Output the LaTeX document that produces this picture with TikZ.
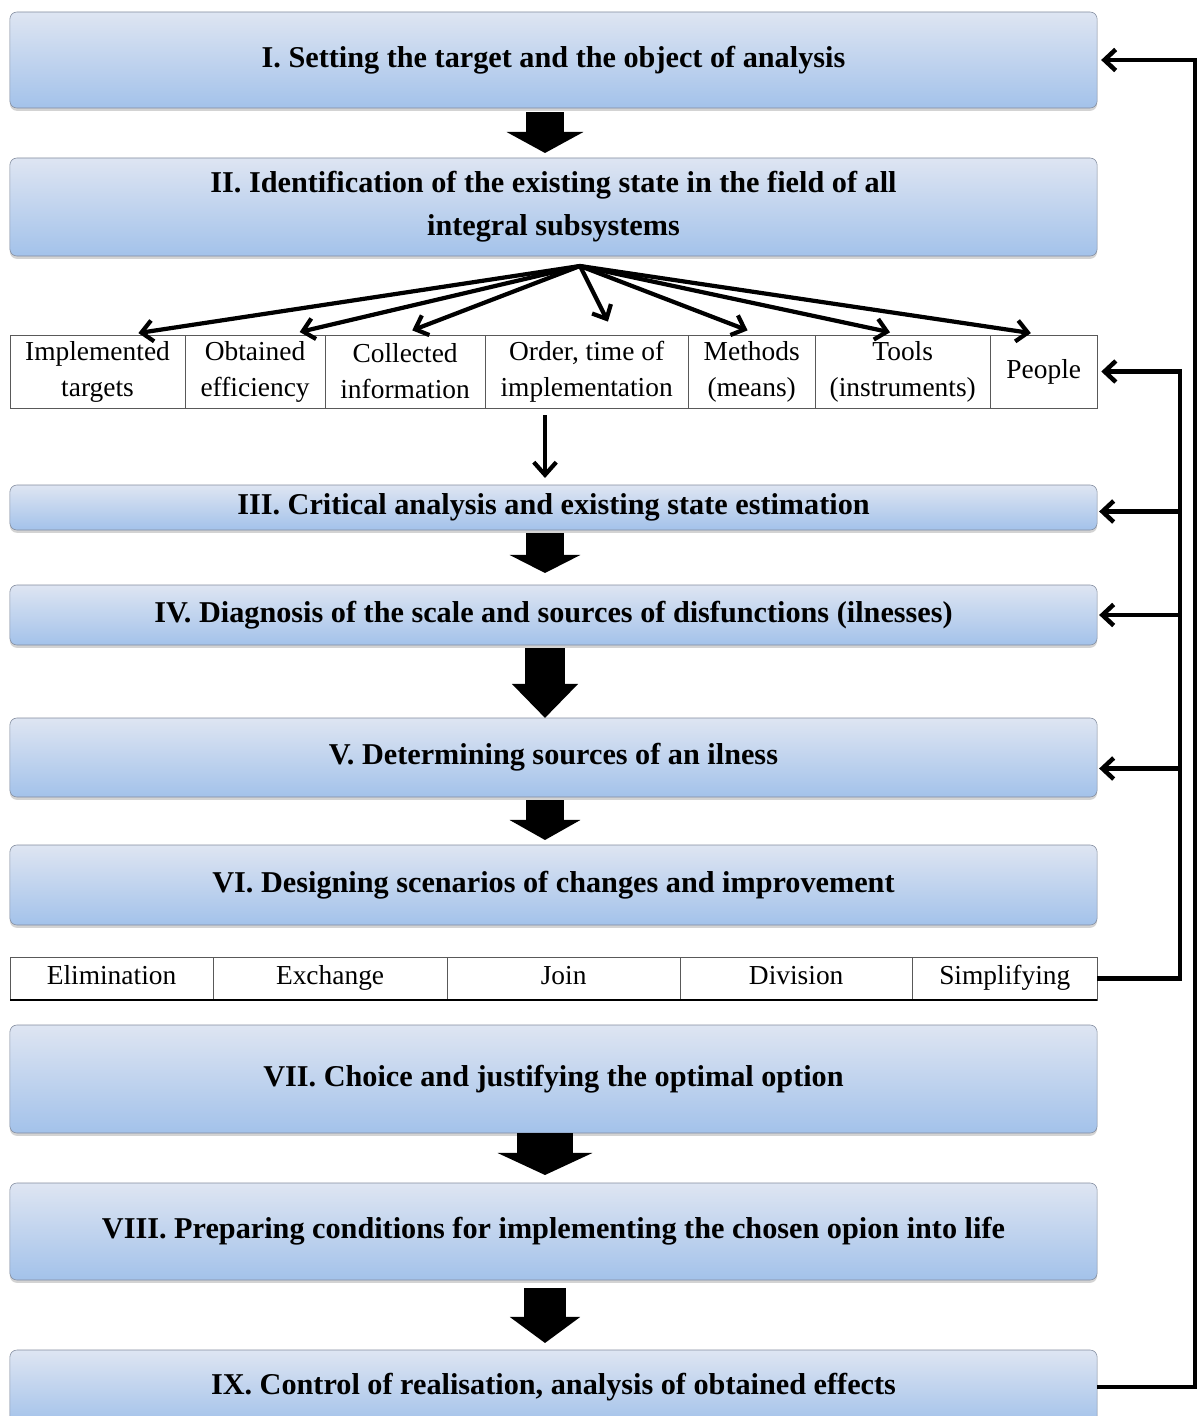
\documentclass[tikz,border=0pt]{standalone}
\usepackage{fontspec}
\setmainfont{Liberation Serif}
\usetikzlibrary{positioning}
\usetikzlibrary{arrows.meta}
\usetikzlibrary{shadows}
\tikzset{>=latex}

\definecolor{stagetop}{RGB}{222,229,242}
\definecolor{stagebot}{RGB}{163,194,234}
\definecolor{stageedge}{RGB}{130,140,158}

\tikzset{
    stage/.style={draw=stageedge, rounded corners=5pt, top color=stagetop, bottom color=stagebot,
        drop shadow={shadow xshift=0pt, shadow yshift=-2pt, opacity=0.35},
        minimum width=27.175cm, inner sep=0pt, outer sep=0pt, align=center,
        font=\fontsize{21.5}{30.5}\selectfont\bfseries},
    subsys/.style={draw=black!65, minimum height=1.825cm, inner sep=0pt, outer sep=0pt,
        align=center, font=\fontsize{19.5}{25.6}\selectfont},
    option/.style={subsys, minimum height=1.075cm, text height=13pt, text depth=4pt},
    fat/.style n args={3}{line width=#1, -{Triangle[length=#3, width=#2]}},
    fanarrow/.style={line width=3pt, -{Straight Barb[length=8pt, width=15pt]}},
    feedback/.style={line width=3.2pt, -{Straight Barb[length=8pt, width=15pt]}},
}

\begin{document}
\begin{tikzpicture}[x=0.025cm, y=-0.025cm]
    \useasboundingbox (0,0) rectangle (1200,1416);

    % stages
    \node[stage, minimum height=2.4cm]   (s1) at (553.5,60)    {I. Setting the target and the object of analysis};
    \node[stage, minimum height=2.45cm]  (s2) at (553.5,207)   {II. Identification of the existing state in the field of all\\integral subsystems};
    \node[stage, minimum height=1.125cm] (s3) at (553.5,507.5) {III. Critical analysis and existing state estimation};
    \node[stage, minimum height=1.5cm]   (s4) at (553.5,615)   {IV. Diagnosis of the scale and sources of disfunctions (ilnesses)};
    \node[stage, minimum height=1.975cm] (s5) at (553.5,757.5) {V. Determining sources of an ilness};
    \node[stage, minimum height=2cm]     (s6) at (553.5,885)   {VI. Designing scenarios of changes and improvement};
    \node[stage, minimum height=2.7cm]   (s7) at (553.5,1079)  {VII. Choice and justifying the optimal option};
    \node[stage, minimum height=2.425cm] (s8) at (553.5,1231.5){VIII. Preparing conditions for implementing the chosen opion into life};
    \node[stage, minimum height=1.85cm]  (s9) at (553.5,1387)  {IX. Control of realisation, analysis of obtained effects};

    % subsystems
    \node[subsys, minimum width=4.375cm, anchor=north west] (targets) at (10,335) {Implemented\\targets};
    \node[subsys, minimum width=3.5cm, right=0pt of targets]     (efficiency) {Obtained\\efficiency};
    \node[subsys, minimum width=4cm, right=0pt of efficiency]    (information) {Collected\\information};
    \node[subsys, minimum width=5.075cm, right=0pt of information] (order) {Order, time of\\implementation};
    \node[subsys, minimum width=3.175cm, right=0pt of order]     (methods) {Methods\\(means)};
    \node[subsys, minimum width=4.375cm, right=0pt of methods]   (tools) {Tools\\(instruments)};
    \node[subsys, minimum width=2.675cm, right=0pt of tools]     (people) {People};

    % options of changes
    \node[option, minimum width=5.075cm, anchor=north west] (elimination) at (10,957) {Elimination};
    \node[option, minimum width=5.85cm, right=0pt of elimination] (exchange) {Exchange};
    \node[option, minimum width=5.825cm, right=0pt of exchange]   (join) {Join};
    \node[option, minimum width=5.8cm, right=0pt of join]         (division) {Division};
    \node[option, minimum width=4.625cm, right=0pt of division]   (simplifying) {Simplifying};
    \draw[line width=1.8pt] (elimination.south west) -- (simplifying.south east);

    \coordinate (mid) at (545,0);
    \coordinate (fan) at (580,266);
    \coordinate (bus) at (1180,0);
    \coordinate (outer) at (1195,0);

    % block arrows
    \draw[fat={0.95cm}{1.9cm}{0.525cm}, shorten <=0.1cm, shorten >=0.125cm] (s1.south -| mid) -- (s2.north -| mid);
    \draw[fat={0.95cm}{1.75cm}{0.45cm}, shorten <=0.075cm, shorten >=0.3cm] (s3.south -| mid) -- (s4.north -| mid);
    \draw[fat={1cm}{1.6cm}{0.85cm}, shorten <=0.075cm] (s4.south -| mid) -- (s5.north -| mid);
    \draw[fat={0.95cm}{1.75cm}{0.5cm}, shorten <=0.075cm, shorten >=0.125cm] (s5.south -| mid) -- (s6.north -| mid);
    \draw[fat={1.4cm}{2.35cm}{0.55cm}, shorten >=0.2cm] (s7.south -| mid) -- (s8.north -| mid);
    \draw[fat={1.025cm}{1.725cm}{0.65cm}, shorten <=0.2cm, shorten >=0.175cm] (s8.south -| mid) -- (s9.north -| mid);

    % fan of arrows to the subsystems
    \draw[fanarrow, shorten >=0.325cm] (fan) -- ([xshift=0.7cm]targets.north);
    \draw[fanarrow, shorten >=0.325cm] (fan) -- ([xshift=0.8cm]efficiency.north);
    \draw[fanarrow, shorten >=0.325cm] (fan) -- ([xshift=-0.125cm]information.north);
    \draw[fanarrow, shorten >=0.375cm] (fan) -- ([xshift=0.7cm]order.north);
    \draw[fanarrow, shorten >=0.325cm] (fan) -- ([xshift=0.2cm]methods.north);
    \draw[fanarrow, shorten >=0.325cm] (fan) -- (tools.north);
    \draw[fanarrow, shorten >=0.325cm] (fan) -- (people.north);

    \draw[line width=3pt, -{Straight Barb[length=9pt, width=16pt]}, shorten <=0.175cm, shorten >=0.175cm]
        (order.south -| mid) -- (s3.north -| mid);

    % feedback loops
    \draw[feedback, shorten >=0.1cm] (s9.east) -- (s9.east -| outer) |- (s1.east);
    \draw[feedback, shorten >=0.1cm] (simplifying.east) -- (simplifying.east -| bus) |- (people.east);
    \draw[feedback, shorten >=0.05cm] ([yshift=-0.1cm]s3.east -| bus) -- ([yshift=-0.1cm]s3.east);
    \draw[feedback, shorten >=0.05cm] (s4.east -| bus) -- (s4.east);
    \draw[feedback, shorten >=0.05cm] ([yshift=-0.275cm]s5.east -| bus) -- ([yshift=-0.275cm]s5.east);
\end{tikzpicture}
\end{document}
